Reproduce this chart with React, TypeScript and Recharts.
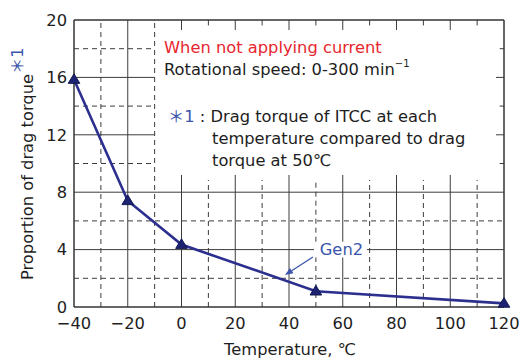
import React from 'react';
import { LineChart, Line, XAxis, YAxis, ReferenceLine, ReferenceDot, Customized } from 'recharts';

// ---- data ----
const temperatures = [-40, -20, 0, 50, 120];
const dragRatio = [15.85, 7.4, 4.35, 1.1, 0.25];
const xMajorTicks = [-40, -20, 0, 20, 40, 60, 80, 100, 120];
const xMinorTicks = [-30, -10, 10, 30, 50, 70, 90, 110];
const yMajorTicks = [0, 4, 8, 12, 16, 20];
const yMinorTicks = [2, 6, 10, 14, 18];
const seriesName = 'Gen2';

const data = temperatures.map((t, i) => ({ temp: t, ratio: dragRatio[i] }));

// ---- styling / layout ----
const FONT = '"DejaVu Sans", "Noto Sans", sans-serif';
const FS = 16.3;
const GRID = '#3c3c3c';
const NAVY = '#2b2f8e';
const BLUE = '#3b55aa';
const RED = '#e8262e';
const TEXT = '#1e1e1e';
const DASH = '5 4';

// annotation box (in axis units) that hides the grid
const BOX_LEFT = -10;
const BOX_MAJOR_BOTTOM = 9.2;
const BOX_MINOR_BOTTOM = 8.85;
// label patch for Gen2
const LBL_X0 = 49.3, LBL_X1 = 69.0, LBL_Y0 = 3.45, LBL_Y1 = 4.55;

type Seg = { x1: number; y1: number; x2: number; y2: number; dashed: boolean };
const segs: Seg[] = [];
// vertical lines
xMajorTicks.forEach((x) => {
  if (x === -40 || x === 120) return;
  if (x < BOX_LEFT) segs.push({ x1: x, y1: 0, x2: x, y2: 20, dashed: false });
  else {
    if (x === 60) {
      segs.push({ x1: x, y1: 0, x2: x, y2: LBL_Y0, dashed: false });
      segs.push({ x1: x, y1: LBL_Y1, x2: x, y2: BOX_MAJOR_BOTTOM, dashed: false });
    } else segs.push({ x1: x, y1: 0, x2: x, y2: BOX_MAJOR_BOTTOM, dashed: false });
    segs.push({ x1: x, y1: 19.3, x2: x, y2: 20, dashed: false });
  }
});
xMinorTicks.forEach((x) => {
  if (x <= BOX_LEFT) segs.push({ x1: x, y1: 0, x2: x, y2: 20, dashed: true });
  else {
    if (x === 50) {
      segs.push({ x1: x, y1: 0, x2: x, y2: LBL_Y0, dashed: true });
      segs.push({ x1: x, y1: LBL_Y1, x2: x, y2: BOX_MINOR_BOTTOM, dashed: true });
    } else segs.push({ x1: x, y1: 0, x2: x, y2: BOX_MINOR_BOTTOM, dashed: true });
    segs.push({ x1: x, y1: 19.62, x2: x, y2: 20, dashed: false });
  }
});
// horizontal lines
yMajorTicks.forEach((y) => {
  if (y === 0 || y === 20) return;
  if (y < BOX_MAJOR_BOTTOM) {
    if (y === 4) {
      segs.push({ x1: -40, y1: y, x2: LBL_X0, y2: y, dashed: false });
      segs.push({ x1: LBL_X1, y1: y, x2: 120, y2: y, dashed: false });
    } else segs.push({ x1: -40, y1: y, x2: 120, y2: y, dashed: false });
  } else {
    segs.push({ x1: -40, y1: y, x2: BOX_LEFT, y2: y, dashed: false });
    segs.push({ x1: 117, y1: y, x2: 120, y2: y, dashed: false });
  }
});
yMinorTicks.forEach((y) => {
  if (y < BOX_MINOR_BOTTOM) segs.push({ x1: -40, y1: y, x2: 120, y2: y, dashed: true });
  else {
    segs.push({ x1: -40, y1: y, x2: BOX_LEFT, y2: y, dashed: true });
    segs.push({ x1: 118.4, y1: y, x2: 120, y2: y, dashed: false });
  }
});

const fmtX = (v: number) => (v < 0 ? `\u2212${-v}` : `${v}`);

const Triangle = (props: any) => {
  const { cx, cy } = props;
  if (cx == null || cy == null) return <g key={props.key} />;
  return (
    <polygon
      key={props.key}
      points={`${cx},${cy - 5.8} ${cx - 5.8},${cy + 3.8} ${cx + 5.8},${cy + 3.8}`}
      fill="#1d2372"
      stroke="#121850"
      strokeWidth={1}
    />
  );
};

const ArrowShape = (props: any) => {
  const { x1, y1, x2, y2 } = props;
  const ang = Math.atan2(y2 - y1, x2 - x1);
  const L = 8, W = 3.2;
  const bx = x2 - L * Math.cos(ang), by = y2 - L * Math.sin(ang);
  const px = -Math.sin(ang) * W, py = Math.cos(ang) * W;
  return (
    <g>
      <line x1={x1} y1={y1} x2={bx} y2={by} stroke={BLUE} strokeWidth={1.3} />
      <polygon points={`${x2},${y2} ${bx + px},${by + py} ${bx - px},${by - py}`} fill={BLUE} />
    </g>
  );
};

const GenLabel = (props: any) => {
  const { cx, cy } = props;
  return (
    <text x={cx} y={cy} textAnchor="middle" dominantBaseline="central" fontFamily={FONT} fontSize={FS} fill={BLUE}>
      {seriesName}
    </text>
  );
};

const Annotations = () => (
  <g fontFamily={FONT} fontSize={FS}>
    <text x={164} y={53} fill={RED}>When not applying current</text>
    <text x={164} y={75} fill={TEXT}>
      Rotational speed: 0-300 min<tspan fontSize={10} dy={-8}>{'\u22121'}</tspan>
    </text>
    <text x={168} y={122} fill={TEXT}>
      <tspan fill={BLUE} fontFamily={'"Noto Sans CJK JP", sans-serif'}>＊</tspan>
      <tspan fill={BLUE}>1</tspan>
      <tspan> : Drag torque of ITCC at each</tspan>
    </text>
    <text x={212} y={144} fill={TEXT}>temperature compared to drag</text>
    <text x={212} y={166} fill={TEXT}>torque at 50℃</text>
    <text x={290} y={355} textAnchor="middle" fill={TEXT}>Temperature, ℃</text>
    <text transform="translate(33,280) rotate(-90)" fill={TEXT}>
      Proportion of drag torque
      <tspan fill={BLUE} dy={-10} fontFamily={'"Noto Sans CJK JP", sans-serif'}>＊</tspan>
      <tspan fill={BLUE}>1</tspan>
    </text>
  </g>
);

export default function App() {
  return (
    <div style={{ position: 'absolute', left: 0, top: 0, width: 520, height: 359, background: '#fff' }}>
      <LineChart width={520} height={359} data={data} margin={{ top: 20, right: 16, left: 0, bottom: 0 }}>
        <XAxis
          dataKey="temp"
          type="number"
          domain={[-40, 120]}
          ticks={xMajorTicks}
          tickFormatter={fmtX}
          tickLine={false}
          tickSize={0}
          tickMargin={10}
          height={52}
          axisLine={{ stroke: '#333', strokeWidth: 1.5 }}
          tick={{ fontSize: FS, fill: TEXT, fontFamily: FONT }}
          interval={0}
        />
        <YAxis
          type="number"
          domain={[0, 20]}
          ticks={yMajorTicks}
          tickLine={false}
          tickSize={0}
          tickMargin={7}
          width={74}
          axisLine={{ stroke: '#333', strokeWidth: 1.5 }}
          tick={{ fontSize: FS, fill: TEXT, fontFamily: FONT }}
          interval={0}
        />
        {segs.map((s, i) => (
          <ReferenceLine
            key={`g${i}`}
            segment={[{ x: s.x1, y: s.y1 }, { x: s.x2, y: s.y2 }]}
            stroke={GRID}
            strokeWidth={1}
            strokeDasharray={s.dashed ? DASH : undefined}
            ifOverflow="visible"
          />
        ))}
        <ReferenceLine y={20} stroke="#333" strokeWidth={1.5} />
        <ReferenceLine x={120} stroke="#333" strokeWidth={1.5} />
        <ReferenceLine
          segment={[{ x: 48.9, y: 3.48 }, { x: 38.5, y: 2.23 }]}
          shape={ArrowShape}
          ifOverflow="visible"
        />
        <ReferenceDot x={59.5} y={4} r={0} shape={GenLabel} ifOverflow="visible" />
        <Line
          dataKey="ratio"
          type="linear"
          stroke={NAVY}
          strokeWidth={2.6}
          dot={Triangle}
          activeDot={false}
          isAnimationActive={false}
        />
        <Customized component={Annotations} />
      </LineChart>
    </div>
  );
}
